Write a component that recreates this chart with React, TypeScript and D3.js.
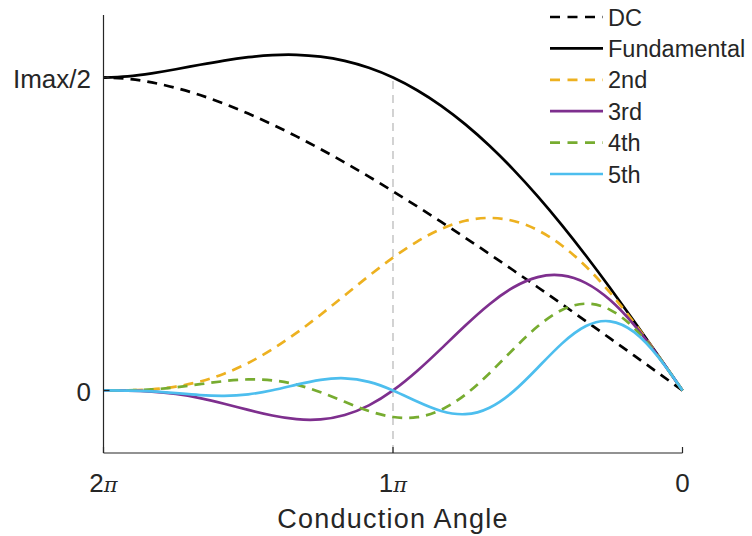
import React from "react";
import * as d3 from "d3";

// Conduction angle samples, in units of π (0 … 2π)
const anglePi = [
  0, 1 / 12, 2 / 12, 3 / 12, 4 / 12, 5 / 12, 6 / 12, 7 / 12, 8 / 12, 9 / 12, 10 / 12, 11 / 12, 1,
  13 / 12, 14 / 12, 15 / 12, 16 / 12, 17 / 12, 18 / 12, 19 / 12, 20 / 12, 21 / 12, 22 / 12, 23 / 12, 2,
];

// Harmonic current amplitudes, in units of Imax/2
const dc = [0, 0.0555, 0.111, 0.1662, 0.2212, 0.2758, 0.3298, 0.3833, 0.436, 0.4878, 0.5387, 0.5883, 0.6366, 0.6834, 0.7284, 0.7713, 0.812, 0.85, 0.885, 0.9166, 0.9441, 0.967, 0.9846, 0.9959, 1.0];
const fundamental = [0, 0.1109, 0.2205, 0.3274, 0.4305, 0.5285, 0.6203, 0.7051, 0.782, 0.8503, 0.9096, 0.9595, 1.0, 1.0311, 1.0532, 1.0668, 1.0727, 1.0717, 1.0651, 1.0543, 1.0409, 1.0266, 1.0135, 1.0038, 1.0];
const second = [0, 0.1103, 0.216, 0.3125, 0.396, 0.4633, 0.5123, 0.5417, 0.5513, 0.5422, 0.5161, 0.4757, 0.4244, 0.3659, 0.3039, 0.2421, 0.1838, 0.1317, 0.0879, 0.0534, 0.0284, 0.0124, 0.0037, 0.0005, 0];
const third = [0, 0.1094, 0.2086, 0.2887, 0.3429, 0.3676, 0.3623, 0.3298, 0.2757, 0.2075, 0.1336, 0.0621, 0, -0.0478, -0.0786, -0.0926, -0.0919, -0.0802, -0.0622, -0.0424, -0.0246, -0.0114, -0.0036, -0.0005, 0];
const fourth = [0, 0.1081, 0.1986, 0.2576, 0.2772, 0.2573, 0.2049, 0.1326, 0.0551, -0.0132, -0.0617, -0.0854, -0.0849, -0.0657, -0.0364, -0.0059, 0.0184, 0.0322, 0.0352, 0.0297, 0.0199, 0.0102, 0.0034, 0.0005, 0];
const fifth = [0, 0.1064, 0.1862, 0.221, 0.2058, 0.1496, 0.0725, -0.0023, -0.0551, -0.0759, -0.0658, -0.0356, 0, 0.0274, 0.0388, 0.0339, 0.0184, 0.0006, -0.0124, -0.0172, -0.0148, -0.0088, -0.0032, -0.0005, 0];

const seriesNames = ["DC", "Fundamental", "2nd", "3rd", "4th", "5th"];
const seriesColors = ["#000000", "#000000", "#EDB120", "#7E2F8E", "#77AC30", "#4DBEEE"];
const seriesDashed = [true, false, true, false, true, false];

const xTickValues = [2, 1, 0];
const xTickLabels = ["2", "1", "0"];
const yTickValues = [0, 1];
const yTickLabels = ["0", "Imax/2"];

const W = 752;
const H = 536;
const FONT = "'Liberation Sans', Arial, Helvetica, sans-serif";
const INK = "#262626";

export default function App() {
  const x = d3.scaleLinear().domain([2, 0]).range([103.5, 682.5]);
  const y = d3.scaleLinear().domain([-0.2, 1.2]).range([453, 15]);

  const allSeries = [dc, fundamental, second, third, fourth, fifth];

  const line = d3
    .line<[number, number]>()
    .x((d) => x(d[0]))
    .y((d) => y(d[1]))
    .curve(d3.curveNatural);

  const [x0, x1] = x.range();
  const [yb, yt] = y.range();

  return (
    <svg width={W} height={H} style={{ position: "absolute", left: 0, top: 0, background: "#fff" }}>
      {/* reference line at one π */}
      <line x1={x(1)} x2={x(1)} y1={y(-0.2)} y2={y(1)} stroke="#c8c8c8" strokeWidth={1.6} strokeDasharray="8,6" />

      {allSeries.map((vals, i) => (
        <path
          key={seriesNames[i]}
          d={line(anglePi.map((a, j) => [a, vals[j]] as [number, number])) || ""}
          fill="none"
          stroke={seriesColors[i]}
          strokeWidth={2.7}
          strokeDasharray={seriesDashed[i] ? "10,7" : undefined}
        />
      ))}

      {/* axes */}
      <line x1={x0} x2={x0} y1={yb} y2={yt} stroke={INK} strokeWidth={1.2} />
      <line x1={x0} x2={x1} y1={yb} y2={yb} stroke={INK} strokeWidth={1.2} />

      {xTickValues.map((v, i) => (
        <g key={"xt" + i}>
          <line x1={x(v)} x2={x(v)} y1={yb} y2={yb - 6} stroke={INK} strokeWidth={1.2} />
          <text x={x(v)} y={492} textAnchor="middle" fontFamily={FONT} fontSize={26} fill={INK}>
            {xTickLabels[i]}
            {v !== 0 ? <tspan fontFamily="'DejaVu Serif', serif" fontStyle="italic" fontSize={21}>π</tspan> : null}
          </text>
        </g>
      ))}

      {yTickValues.map((v, i) => (
        <g key={"yt" + i}>
          <line x1={x0} x2={x0 + 6} y1={y(v)} y2={y(v)} stroke={INK} strokeWidth={1.2} />
          <text x={91} y={y(v) + 10.5} textAnchor="end" fontFamily={FONT} fontSize={26} fill={INK}>
            {yTickLabels[i]}
          </text>
        </g>
      ))}

      <text x={393} y={528} textAnchor="middle" fontFamily={FONT} fontSize={27} letterSpacing={1.25} fill={INK}>
        Conduction Angle
      </text>

      {/* legend */}
      {seriesNames.map((name, i) => {
        const cy = 17 + i * 31.4;
        return (
          <g key={"lg" + i}>
            <line
              x1={550}
              x2={603}
              y1={cy}
              y2={cy}
              stroke={seriesColors[i]}
              strokeWidth={2.7}
              strokeDasharray={seriesDashed[i] ? "10,7.5" : undefined}
            />
            <text x={608} y={cy + 8.5} fontFamily={FONT} fontSize={23.5} fill={INK}>
              {name}
            </text>
          </g>
        );
      })}
    </svg>
  );
}
